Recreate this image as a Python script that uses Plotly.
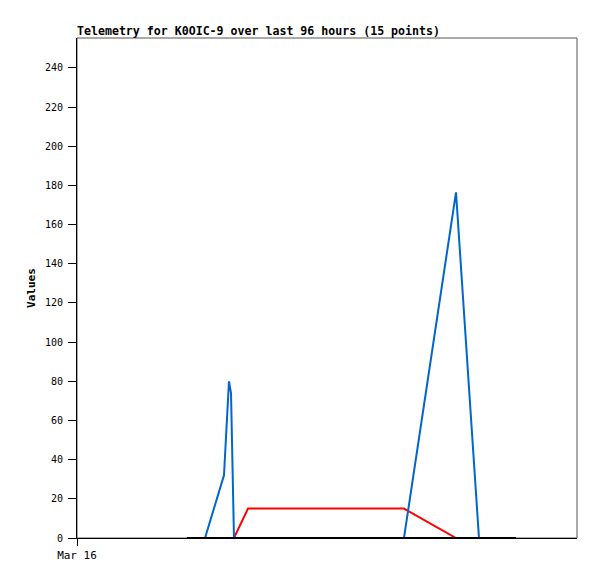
import plotly.graph_objects as go

# hours since Mar 16 00:00
hours = [21.12, 24.58, 28.22, 29.18, 29.57, 29.95, 30.14, 32.83, 42.8, 52.4, 62.78, 72.77, 77.18, 80.3, 84.29]
blue_vals = [0, 0, 32, 80, 74, 8, 0, 0, 0, 0, 0, 176.5, 0, 0, 0]
red_vals = [0, 0, 0, 0, 0, 0, 0, 15, 15, 15, 15, 0, 0, 0, 0]
black_vals = [0] * 15
x_tickvals = [0]
x_ticktext = ["Mar 16"]
y_tickvals = list(range(0, 241, 20))

FONT = "DejaVu Sans Mono"
W, H = 589, 571  # page body has 8px default margin

fig = go.Figure()
fig.add_trace(go.Scatter(x=hours, y=red_vals, mode="lines", line=dict(color="#FF0000", width=2), showlegend=False))
fig.add_trace(go.Scatter(x=hours, y=blue_vals, mode="lines", line=dict(color="#0066CC", width=2), showlegend=False))
fig.add_trace(go.Scatter(x=hours, y=black_vals, mode="lines", line=dict(color="#000000", width=2), showlegend=False))

fig.add_shape(type="rect", xref="paper", yref="paper", x0=0, y0=0, x1=1, y1=1,
              line=dict(color="#555555", width=1), layer="below")

fig.update_layout(
    width=W, height=H,
    margin=dict(l=69, r=20, t=30, b=41),
    paper_bgcolor="white", plot_bgcolor="white",
    font=dict(family=FONT, size=10, color="black"),
    title=dict(text="<b>Telemetry for K0OIC-9 over last 96 hours (15 points)</b>",
               x=69/W, xanchor="left", y=1-23/H, yanchor="middle",
               font=dict(family=FONT, size=11.6, color="black")),
    xaxis=dict(range=[0, 96], tickvals=x_tickvals, ticktext=x_ticktext,
               showgrid=False, zeroline=False, showline=True, linecolor="black", linewidth=1,
               ticks="outside", ticklen=7, tickcolor="black", tickfont=dict(family=FONT, size=11)),
    yaxis=dict(range=[0, 255.3], tickvals=y_tickvals,
               showgrid=False, zeroline=False, showline=True, linecolor="black", linewidth=1,
               ticks="outside", ticklen=8, tickcolor="black", tickfont=dict(family=FONT, size=10),
               ticklabelstandoff=3,
               title=dict(text="<b>Values</b>", font=dict(family=FONT, size=11), standoff=7)),
)

fig.write_html("out.html")
